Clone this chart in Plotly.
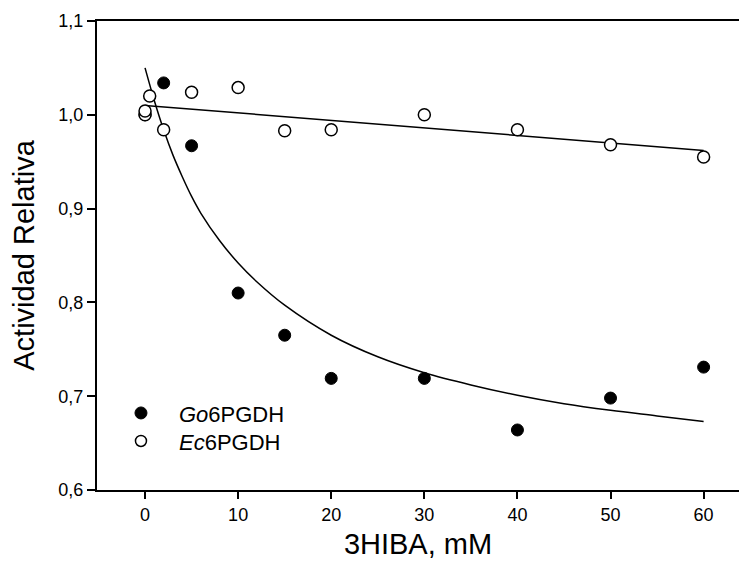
import plotly.graph_objects as go

# Measured data
go_x = [0, 2, 5, 10, 15, 20, 30, 40, 50, 60]
go_y = [1.0, 1.034, 0.967, 0.810, 0.765, 0.719, 0.719, 0.664, 0.698, 0.731]

ec_x = [0, 0, 0.5, 2, 5, 10, 15, 20, 30, 40, 50, 60]
ec_y = [1.0, 1.004, 1.020, 0.984, 1.024, 1.029, 0.983, 0.984, 1.0, 0.984, 0.968, 0.955]

# Fitted curves
go_fit_x = [0, 1, 2, 3, 4, 5, 6, 8, 10, 12, 15, 20, 25, 30, 35, 40, 45, 50, 55, 60]
go_fit_y = [1.05, 1.015, 0.984, 0.957, 0.934, 0.913, 0.895, 0.866, 0.842, 0.822,
            0.797, 0.765, 0.742, 0.725, 0.712, 0.701, 0.692, 0.685, 0.679, 0.673]

ec_fit_x = [0, 60]
ec_fit_y = [1.010, 0.962]

x_ticks = [0, 10, 20, 30, 40, 50, 60]
y_ticks = [0.6, 0.7, 0.8, 0.9, 1.0, 1.1]

FONT = "Liberation Sans, Arial, sans-serif"

fig = go.Figure()

fig.add_trace(go.Scatter(x=go_fit_x, y=go_fit_y, mode="lines", line=dict(color="black", width=1.5, shape="spline"),
                         showlegend=False, hoverinfo="skip"))
fig.add_trace(go.Scatter(x=ec_fit_x, y=ec_fit_y, mode="lines", line=dict(color="black", width=1.5),
                         showlegend=False, hoverinfo="skip"))

fig.add_trace(go.Scatter(x=go_x, y=go_y, mode="markers",
                         marker=dict(symbol="circle", size=12, color="black", line=dict(color="black", width=1)),
                         showlegend=False))
fig.add_trace(go.Scatter(x=ec_x, y=ec_y, mode="markers",
                         marker=dict(symbol="circle", size=12, color="white", line=dict(color="black", width=1.5)),
                         showlegend=False))

# legend entries
fig.add_trace(go.Scatter(x=[None], y=[None], mode="markers", name="<i>Go</i>6PGDH", legend="legend",
                         marker=dict(symbol="circle", size=12, color="black", line=dict(color="black", width=1))))
fig.add_trace(go.Scatter(x=[None], y=[None], mode="markers", name="<i>Ec</i>6PGDH", legend="legend2",
                         marker=dict(symbol="circle", size=11, color="white", line=dict(color="black", width=1.5))))

leg_common = dict(xanchor="left", yanchor="top", itemwidth=66,
                  font=dict(size=22, family=FONT), bgcolor="rgba(0,0,0,0)")

fig.update_layout(
    width=739, height=573,
    margin=dict(l=97, r=0, t=21, b=83),
    paper_bgcolor="white", plot_bgcolor="white",
    separators=",.",
    font=dict(family=FONT, color="black"),
    showlegend=True,
    legend=dict(x=0.0093, y=0.2086, **leg_common),
    legend2=dict(x=0.0093, y=0.1489, **leg_common),
    xaxis=dict(range=[-5.16, 63.8], tickvals=x_ticks, ticks="outside", ticklen=7, tickwidth=1.5,
               tickcolor="black", showline=True, linecolor="black", linewidth=2, mirror=True,
               showgrid=False, zeroline=False, tickfont=dict(size=18),
               title=dict(text="3HIBA, mM", font=dict(size=29), standoff=10)),
    yaxis=dict(range=[0.6, 1.1], tickvals=y_ticks, tickformat=".1f", ticks="outside", ticklen=8, tickwidth=1.5,
               tickcolor="black", showline=True, linecolor="black", linewidth=2,
               showgrid=False, zeroline=False, tickfont=dict(size=18),
               title=dict(text="Actividad Relativa", font=dict(size=29), standoff=15)),
)

fig.write_html("out.html")
